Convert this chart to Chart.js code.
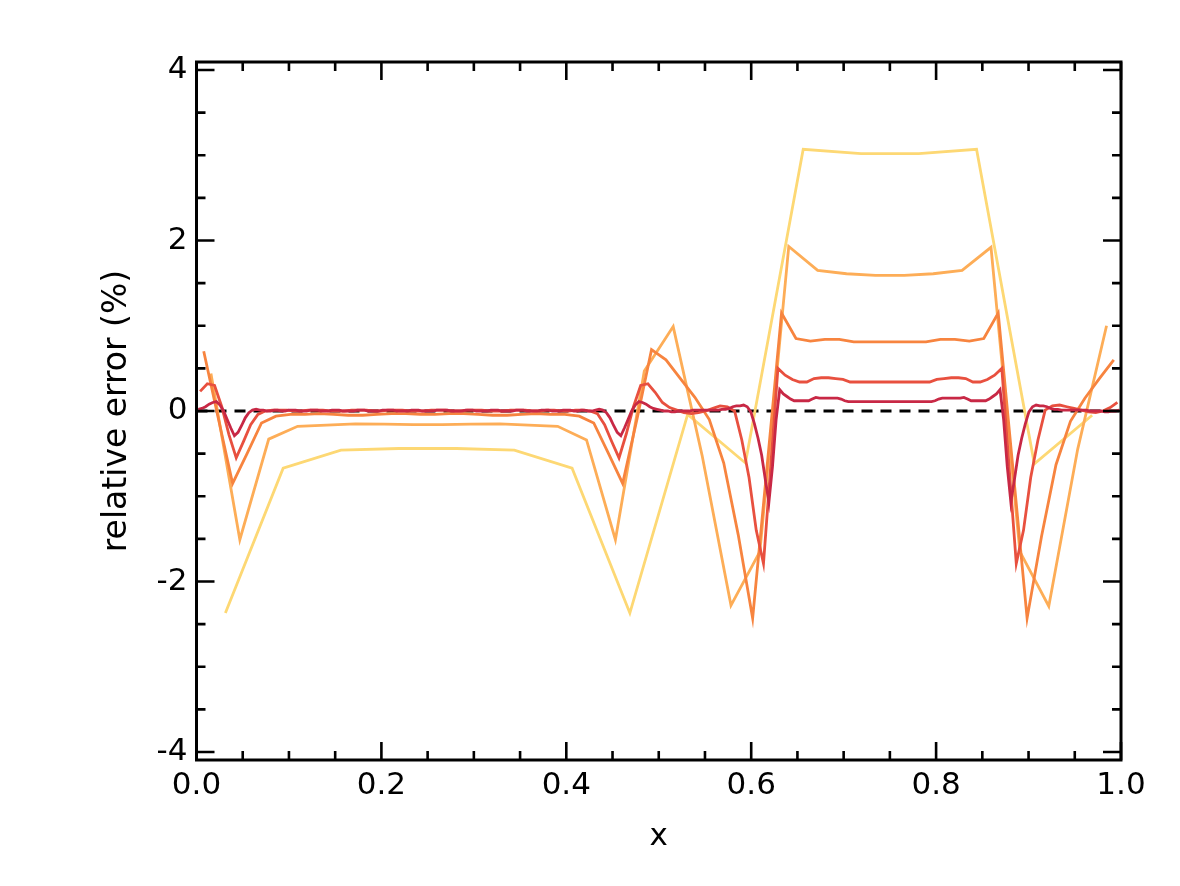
<!DOCTYPE html>
<html><head><meta charset="utf-8">
<script src="https://cdn.jsdelivr.net/npm/chart.js@4.4.1/dist/chart.umd.min.js"></script>
<style>html,body{margin:0;padding:0;background:#fff;}canvas{display:block;}</style>
</head><body>
<canvas id="c" width="1180" height="886"></canvas>
<script>
// ---- data (grid cells of width 1/N) ----
const yellow16 = [-2.37,-0.67,-0.46,-0.44,-0.44,-0.46,-0.67,-2.37,-0.04,-0.61,3.07,3.02,3.02,3.07,-0.62,-0.05];

const lightOrange32 = [0.44,-1.51,-0.33,-0.18,-0.165,-0.15,-0.155,-0.16,-0.16,-0.155,-0.15,-0.165,-0.18,-0.34,-1.51,0.47,
  0.99,-0.52,-2.28,-1.65,1.93,1.65,1.61,1.59,1.59,1.61,1.65,1.92,-1.65,-2.29,-0.45,1.00];

const orange64 = [0.70,-0.08,-0.85,-0.50,-0.14,-0.06,-0.04,-0.04,-0.03,-0.04,-0.05,-0.05,-0.04,-0.03,-0.03,-0.04,
  -0.04,-0.03,-0.03,-0.04,-0.05,-0.05,-0.04,-0.03,-0.04,-0.04,-0.06,-0.14,-0.49,-0.85,-0.09,0.72,
  0.60,0.38,0.16,-0.10,-0.61,-1.45,-2.43,-0.65,1.15,0.85,0.82,0.84,0.84,0.81,0.81,0.81,
  0.81,0.81,0.81,0.84,0.84,0.82,0.85,1.15,-0.64,-2.43,-1.47,-0.63,-0.12,0.15,0.38,0.60];

const red128 = [0.23,0.32,0.30,0.05,-0.28,-0.55,-0.36,-0.16,-0.04,0.00,0.01,0.01,0.01,0.00,0.00,0.01,
  0.01,0.01,0.00,0.00,0.00,0.01,0.01,0.01,0.00,0.00,0.01,0.01,0.01,0.00,0.00,0.00,
  0.01,0.01,0.01,0.00,0.00,0.01,0.01,0.01,0.00,0.00,0.00,0.01,0.01,0.01,0.00,0.00,
  0.01,0.01,0.00,0.00,0.01,0.01,0.00,-0.03,-0.16,-0.36,-0.55,-0.27,0.05,0.30,0.32,0.22,
  0.10,0.04,0.01,-0.02,-0.03,-0.02,0.00,0.03,0.06,0.05,0.00,-0.34,-0.78,-1.40,-1.79,-0.65,
  0.50,0.42,0.37,0.34,0.34,0.38,0.39,0.39,0.38,0.37,0.34,0.34,0.34,0.34,0.34,0.34,
  0.34,0.34,0.34,0.34,0.34,0.34,0.37,0.38,0.39,0.39,0.38,0.34,0.34,0.37,0.42,0.50,
  -0.65,-1.79,-1.40,-0.78,-0.34,0.01,0.06,0.07,0.05,0.03,0.01,-0.01,-0.02,0.00,0.04,0.10];

const crimson256 = [0.02,0.03,0.05,0.08,0.10,0.11,0.07,0.00,-0.10,-0.20,-0.29,-0.25,-0.17,-0.08,-0.02,0.01,
  0.02,0.01,0.01,0.00,0.00,0.01,0.01,0.00,0.00,0.01,0.01,0.01,0.00,0.00,0.00,0.01,
  0.01,0.01,0.00,0.00,0.00,0.01,0.01,0.01,0.00,0.00,0.00,0.00,0.01,0.01,0.01,0.00,
  0.00,0.00,0.00,0.01,0.01,0.01,0.01,0.00,0.00,0.00,0.00,0.01,0.01,0.01,0.00,0.00,
  0.00,0.00,0.01,0.01,0.01,0.01,0.00,0.00,0.00,0.00,0.01,0.01,0.01,0.00,0.00,0.00,
  0.00,0.01,0.01,0.01,0.00,0.00,0.00,0.00,0.01,0.01,0.01,0.00,0.00,0.00,0.00,0.01,
  0.01,0.01,0.00,0.00,0.00,0.01,0.01,0.01,0.00,0.00,0.01,0.01,0.00,0.00,0.01,0.02,
  0.01,-0.02,-0.08,-0.17,-0.25,-0.29,-0.20,-0.10,0.00,0.07,0.11,0.10,0.08,0.05,0.03,0.02,
  0.01,0.00,0.00,-0.01,-0.01,0.00,0.00,0.00,0.00,0.01,0.01,0.01,0.01,0.01,0.01,0.01,
  0.01,0.02,0.02,0.03,0.05,0.06,0.06,0.07,0.05,-0.01,-0.15,-0.32,-0.52,-0.80,-1.07,-0.65,
  -0.10,0.25,0.20,0.17,0.14,0.12,0.12,0.12,0.12,0.12,0.14,0.16,0.15,0.15,0.15,0.15,
  0.15,0.15,0.14,0.12,0.11,0.11,0.11,0.11,0.11,0.11,0.11,0.11,0.11,0.11,0.11,0.11,
  0.11,0.11,0.11,0.11,0.11,0.11,0.11,0.11,0.11,0.11,0.11,0.11,0.12,0.14,0.15,0.15,
  0.15,0.15,0.15,0.15,0.16,0.14,0.12,0.12,0.12,0.12,0.12,0.14,0.17,0.20,0.25,-0.10,
  -0.65,-1.07,-0.80,-0.52,-0.32,-0.15,-0.01,0.05,0.07,0.06,0.06,0.05,0.03,0.02,0.02,0.01,
  0.01,0.01,0.01,0.01,0.01,0.01,0.01,0.00,0.00,0.00,0.00,-0.01,-0.01,0.00,0.00,0.01];

const zeroLine = [0, 0];            // y of the dashed reference line at x = 0 and x = 1
const zeroLineX = [0, 1];

const xTickValues = [0, 0.2, 0.4, 0.6, 0.8, 1.0];
const xTickLabels = ['0.0', '0.2', '0.4', '0.6', '0.8', '1.0'];
const xMinorTicks = [0.05,0.1,0.15,0.25,0.3,0.35,0.45,0.5,0.55,0.65,0.7,0.75,0.85,0.9,0.95];
const yTickValues = [-4, -2, 0, 2, 4];
const yTickLabels = ['-4', '-2', '0', '2', '4'];
const yMinorTicks = [-3.5,-3,-2.5,-1.5,-1,-0.5,0.5,1,1.5,2.5,3,3.5];

const xTitle = 'x';
const yTitle = 'relative error (%)';

// ---- build chart ----
function cells(vals) { return vals.map((v, i) => ({ x: (i + 0.5) / vals.length, y: v })); }

const FONT = '"DejaVu Sans", Verdana, sans-serif';

const tickPlugin = {
  id: 'idlFrame',
  afterDatasetsDraw(chart) {
    const { ctx, chartArea: a, scales: { x, y } } = chart;
    ctx.save();
    ctx.strokeStyle = '#000';
    ctx.lineWidth = 2.6;
    ctx.lineCap = 'butt';
    ctx.beginPath();
    const major = 18, minor = 9;
    const xt = (v, L) => { const p = x.getPixelForValue(v);
      ctx.moveTo(p, a.bottom); ctx.lineTo(p, a.bottom - L);
      ctx.moveTo(p, a.top); ctx.lineTo(p, a.top + L); };
    const yt = (v, L) => { const p = y.getPixelForValue(v);
      ctx.moveTo(a.left, p); ctx.lineTo(a.left + L, p);
      ctx.moveTo(a.right, p); ctx.lineTo(a.right - L, p); };
    xTickValues.forEach(v => xt(v, major));
    xMinorTicks.forEach(v => xt(v, minor));
    yTickValues.forEach(v => yt(v, major));
    yMinorTicks.forEach(v => yt(v, minor));
    ctx.stroke();
    ctx.lineWidth = 3;
    ctx.strokeRect(a.left, a.top, a.right - a.left, a.bottom - a.top);
    ctx.restore();
  }
};

const line = (data, color, order) => ({
  data: cells(data), borderColor: color, borderWidth: 2.8, pointRadius: 0,
  tension: 0, fill: false, order: order
});

new Chart(document.getElementById('c'), {
  type: 'line',
  data: {
    datasets: [
      { data: zeroLineX.map((xv, i) => ({ x: xv, y: zeroLine[i] })), borderColor: '#000',
        borderWidth: 2.8, borderDash: [11, 8], pointRadius: 0, fill: false, order: 10 },
      line(yellow16, '#FDD874', 5),
      line(lightOrange32, '#FDAD57', 4),
      line(orange64, '#F7843F', 3),
      line(red128, '#E8503F', 2),
      line(crimson256, '#C82845', 1)
    ]
  },
  options: {
    responsive: false,
    devicePixelRatio: 1,
    animation: false,
    layout: { padding: { left: 0, right: 59, top: 62, bottom: 0 } },
    plugins: { legend: { display: false }, tooltip: { enabled: false } },
    scales: {
      x: {
        type: 'linear', min: 0, max: 1,
        grid: { display: false, drawTicks: false },
        border: { display: false },
        afterBuildTicks: s => { s.ticks = xTickValues.map(v => ({ value: v })); },
        afterFit: s => { s.height = 126; },
        ticks: { callback: (v) => xTickLabels[xTickValues.indexOf(v)], font: { family: FONT, size: 31 },
                 color: '#000', padding: 7, maxRotation: 0, autoSkip: false },
        title: { display: true, text: xTitle, font: { family: FONT, size: 31 }, color: '#000',
                 padding: { top: 0, bottom: 30 } }
      },
      y: {
        type: 'linear', min: -4.094, max: 4.094,
        grid: { display: false, drawTicks: false },
        border: { display: false },
        afterBuildTicks: s => { s.ticks = yTickValues.map(v => ({ value: v })); },
        afterFit: s => { s.width = 196.5; },
        ticks: { callback: (v) => yTickLabels[yTickValues.indexOf(v)], font: { family: FONT, size: 31 },
                 color: '#000', padding: 9, autoSkip: false },
        title: { display: true, text: yTitle, font: { family: FONT, size: 33 }, color: '#000',
                 padding: { top: 98, bottom: 0 } }
      }
    }
  },
  plugins: [tickPlugin]
});
</script>
</body></html>
